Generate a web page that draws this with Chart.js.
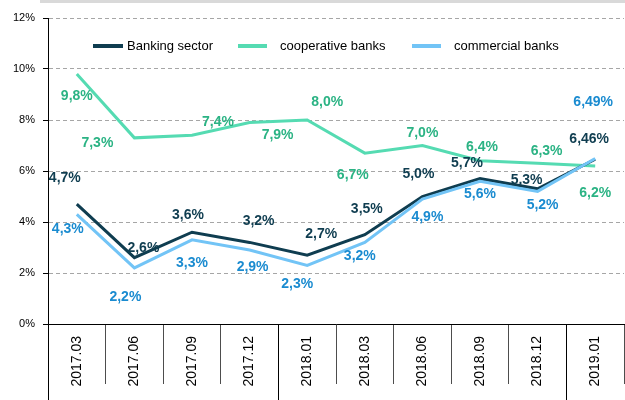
<!DOCTYPE html>
<html>
<head>
<meta charset="utf-8">
<script src="https://cdn.jsdelivr.net/npm/chart.js@4.4.1/dist/chart.umd.min.js"></script>
<style>
  html, body { margin: 0; padding: 0; background: #fff; }
  #wrap { position: relative; width: 625px; height: 400px; }
</style>
</head>
<body>
<div id="wrap"><canvas id="chart" width="625" height="400"></canvas></div>
<script>
// ---- data ----
const periods = ['2017.03', '2017.06', '2017.09', '2017.12', '2018.01', '2018.03', '2018.06', '2018.09', '2018.12', '2019.01'];
const bankingSector = [4.7, 2.6, 3.6, 3.2, 2.7, 3.5, 5.0, 5.7, 5.3, 6.46];
const cooperativeBanks = [9.8, 7.3, 7.4, 7.9, 8.0, 6.7, 7.0, 6.4, 6.3, 6.2];
const commercialBanks = [4.3, 2.2, 3.3, 2.9, 2.3, 3.2, 4.9, 5.6, 5.2, 6.49];
const yTicks = [0, 2, 4, 6, 8, 10, 12];
const yearStarts = [0, 4, 9]; // indices where a new year group begins

// label placement (moved by hand in the original), [dx, dy] from the point
const bankingOffsets = [[-12, -26], [9, -10], [-4, -17], [9, -21], [14, -21], [2, -26], [-4, -22], [-13, -16], [-11, -9], [-6, -20]];
const coopOffsets = [[0, 22], [-37, 5], [26, -13], [28, 13], [20, -18], [-12, 22], [0, -12], [2, -14], [9, -12], [0, 27]];
const commercialOffsets = [[-9, 15], [-9, 29], [0, 23], [3, 17], [-10, 19], [-5, 14], [5, 18], [0, 13], [5, 14], [-2, -56]];

const COL_BANK = '#0f3d50';
const COL_COOP = '#55dbb2';
const COL_COOP_TXT = '#2bb384';
const COL_COMM = '#72c4f6';
const COL_COMM_TXT = '#1a8bd0';

function fmt(v) {
    const s = (Math.round(v * 100) % 10 !== 0) ? v.toFixed(2) : v.toFixed(1);
    return s.replace('.', ',') + '%';
}

// data labels, top band, year dividers and legend
const decorPlugin = {
    id: 'decor',
    afterDatasetsDraw(chart) {
        const ctx = chart.ctx;
        const area = chart.chartArea;
        const xs = chart.scales.x;

        // gray band at top
        ctx.save();
        ctx.fillStyle = '#d9d9d9';
        ctx.fillRect(40, 0, 585, 3);

        // year group dividers down to the bottom
        const half = (xs.getPixelForValue(1) - xs.getPixelForValue(0)) / 2;
        ctx.strokeStyle = '#000';
        ctx.lineWidth = 1;
        yearStarts.forEach(i => {
            const x = Math.round(xs.getPixelForValue(i) - half) + 0.5;
            ctx.beginPath();
            ctx.moveTo(x, area.bottom);
            ctx.lineTo(x, chart.height);
            ctx.stroke();
        });

        // data labels
        ctx.font = 'bold 14px "Liberation Sans", Arial, sans-serif';
        ctx.textAlign = 'center';
        ctx.textBaseline = 'middle';
        chart.data.datasets.forEach((ds, di) => {
            const meta = chart.getDatasetMeta(di);
            ctx.fillStyle = ds.labelColor;
            meta.data.forEach((pt, i) => {
                const off = ds.labelOffsets[i];
                ctx.fillText(fmt(ds.data[i]), pt.x + off[0], pt.y + off[1]);
            });
        });

        // legend inside the plot
        const legendItems = [
            { ds: 0, x1: 93, x2: 123, tx: 127 },
            { ds: 1, x1: 238, x2: 267, tx: 280 },
            { ds: 2, x1: 412, x2: 441, tx: 454 }
        ];
        const ly = 46;
        ctx.font = '13px "Liberation Sans", Arial, sans-serif';
        ctx.textAlign = 'left';
        legendItems.forEach(item => {
            const ds = chart.data.datasets[item.ds];
            ctx.strokeStyle = ds.borderColor;
            ctx.lineWidth = 4;
            ctx.beginPath();
            ctx.moveTo(item.x1, ly);
            ctx.lineTo(item.x2, ly);
            ctx.stroke();
            ctx.fillStyle = '#000';
            ctx.fillText(ds.label, item.tx, ly);
        });
        ctx.restore();
    }
};

new Chart(document.getElementById('chart'), {
    type: 'line',
    data: {
        labels: periods,
        datasets: [
            { label: 'Banking sector', data: bankingSector, borderColor: COL_BANK, labelColor: COL_BANK, labelOffsets: bankingOffsets, order: 1 },
            { label: 'cooperative banks', data: cooperativeBanks, borderColor: COL_COOP, labelColor: COL_COOP_TXT, labelOffsets: coopOffsets, order: 2 },
            { label: 'commercial banks', data: commercialBanks, borderColor: COL_COMM, labelColor: COL_COMM_TXT, labelOffsets: commercialOffsets, order: 0 }
        ]
    },
    options: {
        responsive: false,
        animation: false,
        layout: { padding: { top: 18, right: 1, left: 0, bottom: 0 } },
        elements: {
            line: { borderWidth: 3, tension: 0, fill: false, borderCapStyle: 'butt', borderJoinStyle: 'miter' },
            point: { radius: 0, hoverRadius: 0 }
        },
        plugins: { legend: { display: false }, tooltip: { enabled: false } },
        scales: {
            x: {
                offset: true,
                grid: { offset: true, drawOnChartArea: false, drawTicks: true, tickLength: 60, color: '#4d4d4d', lineWidth: 1 },
                border: { display: true, color: '#000', width: 1 },
                ticks: {
                    autoSkip: false, minRotation: 90, maxRotation: 90, padding: -48,
                    color: '#000', font: { family: '"Liberation Sans", Arial, sans-serif', size: 14 }
                },
                afterFit(scale) { scale.height = 76; }
            },
            y: {
                min: 0, max: 12,
                afterBuildTicks(scale) { scale.ticks = yTicks.map(v => ({ value: v })); },
                grid: { color: '#a6a6a6', lineWidth: 1, tickLength: 5, tickColor: '#000', drawTicks: true },
                border: { display: true, color: '#000', width: 1, dash: [4, 3] },
                ticks: {
                    padding: 8, color: '#000',
                    font: { family: '"Liberation Sans", Arial, sans-serif', size: 11 },
                    callback: v => v + '%'
                },
                afterFit(scale) { scale.width = 48; }
            }
        }
    },
    plugins: [decorPlugin]
});
</script>
</body>
</html>
